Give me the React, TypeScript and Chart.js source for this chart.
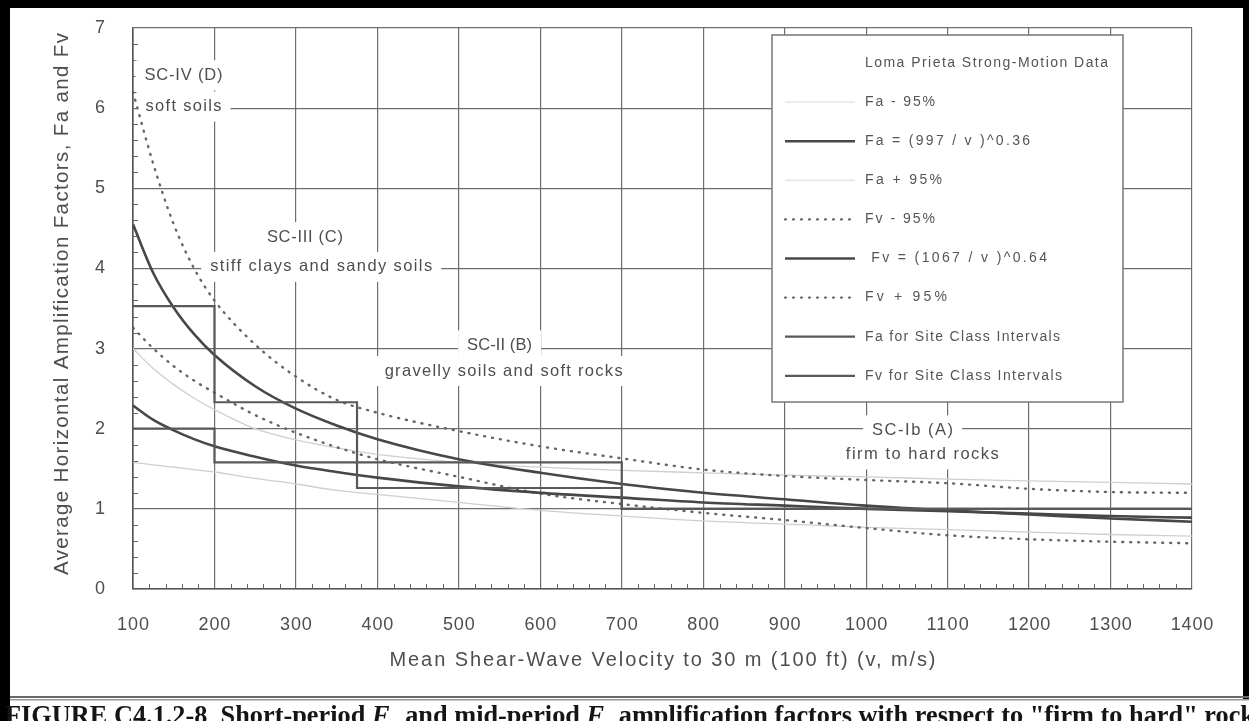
import React, { useEffect, useRef } from 'react';
import { Chart, registerables } from 'chart.js';

Chart.register(...registerables);

// ---------------- data ----------------
const velocities = [100, 125, 150, 175, 200, 250, 300, 350, 400, 500, 600, 700, 800, 900, 1000, 1100, 1200, 1300, 1400];

const faMean = [2.29, 2.11, 1.98, 1.87, 1.78, 1.65, 1.54, 1.46, 1.39, 1.28, 1.2, 1.14, 1.08, 1.04, 1.0, 0.97, 0.94, 0.91, 0.89];
const faPlus95 = [3.0, 2.75, 2.55, 2.38, 2.24, 2.0, 1.86, 1.76, 1.68, 1.58, 1.52, 1.48, 1.45, 1.42, 1.4, 1.37, 1.35, 1.33, 1.31];
const faMinus95 = [1.58, 1.55, 1.52, 1.49, 1.46, 1.38, 1.31, 1.23, 1.18, 1.08, 0.98, 0.91, 0.85, 0.81, 0.77, 0.74, 0.71, 0.68, 0.66];

const fvMean = [4.55, 3.94, 3.51, 3.18, 2.92, 2.53, 2.25, 2.04, 1.87, 1.62, 1.45, 1.31, 1.2, 1.12, 1.04, 0.98, 0.93, 0.88, 0.84];
const fvPlus95 = [6.2, 5.3, 4.55, 4.0, 3.6, 3.05, 2.65, 2.36, 2.2, 1.97, 1.78, 1.63, 1.49, 1.41, 1.36, 1.32, 1.25, 1.21, 1.2];
const fvMinus95 = [3.26, 3.0, 2.78, 2.6, 2.45, 2.17, 1.95, 1.77, 1.62, 1.4, 1.19, 1.06, 0.95, 0.86, 0.76, 0.67, 0.62, 0.59, 0.57];

const siteClassVelocities = [100, 200, 375, 700, 1400];
const faSiteClass = [2.0, 1.58, 1.26, 1.0, 1.0];
const fvSiteClass = [3.53, 2.33, 1.58, 1.0, 1.0];

const xTickLabels = ['100', '200', '300', '400', '500', '600', '700', '800', '900', '1000', '1100', '1200', '1300', '1400'];
const yTickLabels = ['0', '1', '2', '3', '4', '5', '6', '7'];

const zoneLabels = ['SC-IV (D)', 'soft soils', 'SC-III (C)', 'stiff clays and sandy soils', 'SC-II (B)', 'gravelly soils and soft rocks', 'SC-Ib (A)', 'firm to hard rocks'];
const zoneLabelV = [162, 162, 311, 331, 550, 555, 1057, 1069];
const zoneLabelF = [6.41, 6.02, 4.39, 4.02, 3.04, 2.72, 1.98, 1.68];

const legendLabels = [
  'Loma Prieta Strong-Motion Data',
  'Fa - 95%',
  'Fa = (997 / v )^0.36',
  'Fa + 95%',
  'Fv - 95%',
  ' Fv = (1067 / v )^0.64',
  'Fv + 95%',
  'Fa for Site Class Intervals',
  'Fv for Site Class Intervals',
];

const xTitle = 'Mean Shear-Wave Velocity to 30 m (100 ft) (v, m/s)';
const yTitle = 'Average Horizontal Amplification Factors, Fa and Fv';

// ---------------- styling / layout ----------------
const SANS = '"Liberation Sans", Arial, Helvetica, sans-serif';
const SERIF = '"Liberation Serif", "Times New Roman", serif';
const INK = '#4e4e4e';
const MEAN_COLOR = '#474747';
const STEP_COLOR = '#585858';
const DOT_COLOR = '#666666';
const FAINT_COLOR = '#cfcfcf';

const zoneLabelWidths = [78, 76, 76, 222, 65, 238, 81, 153];
const legendTextWidths = [243, 70, 165, 77, 70, 182, 82, 195, 197];

type LegendStyle = { color: string; width: number; dash: number[] } | null;
const legendStyles: LegendStyle[] = [
  null,
  { color: '#e6e6e6', width: 1.5, dash: [] },
  { color: MEAN_COLOR, width: 2.4, dash: [] },
  { color: '#e6e6e6', width: 1.5, dash: [] },
  { color: DOT_COLOR, width: 2.2, dash: [1, 7] },
  { color: MEAN_COLOR, width: 2.4, dash: [] },
  { color: DOT_COLOR, width: 2.2, dash: [1, 7] },
  { color: STEP_COLOR, width: 2.2, dash: [] },
  { color: STEP_COLOR, width: 2.2, dash: [] },
];

function fitText(
  ctx: CanvasRenderingContext2D,
  text: string,
  x: number,
  y: number,
  width: number,
  font: string,
  color: string,
  align: 'left' | 'center' = 'center'
) {
  ctx.save();
  ctx.font = font;
  (ctx as any).letterSpacing = '0px';
  const natural = ctx.measureText(text).width;
  const n = text.length;
  const sp = n > 1 ? (width - natural) / (n - 1) : 0;
  (ctx as any).letterSpacing = `${sp}px`;
  ctx.fillStyle = color;
  ctx.textAlign = 'left';
  ctx.textBaseline = 'middle';
  const left = align === 'center' ? x - width / 2 : x;
  ctx.fillText(text, left, y);
  ctx.restore();
}

function pts(xs: number[], ys: number[]) {
  return xs.map((x, i) => ({ x, y: ys[i] }));
}

export default function App() {
  const ref = useRef<HTMLCanvasElement>(null);

  useEffect(() => {
    const canvas = ref.current;
    if (!canvas) return;

    const decor = {
      id: 'decor',
      beforeDraw(chart: any) {
        const ctx: CanvasRenderingContext2D = chart.ctx;
        ctx.save();
        ctx.fillStyle = '#ffffff';
        ctx.fillRect(0, 0, chart.width, chart.height);
        ctx.restore();
      },
      beforeDatasetsDraw(chart: any) {
        const ctx: CanvasRenderingContext2D = chart.ctx;
        const xs = chart.scales.x;
        const ys = chart.scales.y;
        const area = chart.chartArea;
        ctx.save();
        // minor ticks
        ctx.strokeStyle = '#666';
        ctx.lineWidth = 1;
        for (let k = 0; k <= 35; k++) {
          if (k % 5 === 0) continue;
          const py = Math.round(ys.getPixelForValue(k * 0.2)) + 0.5;
          ctx.beginPath();
          ctx.moveTo(area.left, py);
          ctx.lineTo(area.left + 5, py);
          ctx.stroke();
        }
        for (let k = 0; k <= 65; k++) {
          if (k % 5 === 0) continue;
          const px = Math.round(xs.getPixelForValue(100 + k * 20)) + 0.5;
          ctx.beginPath();
          ctx.moveTo(px, area.bottom);
          ctx.lineTo(px, area.bottom - 5);
          ctx.stroke();
        }
        // zone labels with white backgrounds
        zoneLabels.forEach((t, i) => {
          const cx = xs.getPixelForValue(zoneLabelV[i]);
          const cy = ys.getPixelForValue(zoneLabelF[i]);
          const w = zoneLabelWidths[i];
          ctx.fillStyle = '#ffffff';
          ctx.fillRect(cx - w / 2 - 9, cy - 15, w + 18, 30);
          fitText(ctx, t, cx, cy, w, `16.5px ${SANS}`, INK, 'center');
        });
        ctx.restore();
      },
      afterDatasetsDraw(chart: any) {
        const ctx: CanvasRenderingContext2D = chart.ctx;
        const xs = chart.scales.x;
        const ys = chart.scales.y;
        const area = chart.chartArea;
        ctx.save();

        // legend box
        const lx0 = 772, ly0 = 35, lx1 = 1123, ly1 = 402;
        ctx.fillStyle = '#ffffff';
        ctx.fillRect(lx0, ly0, lx1 - lx0, ly1 - ly0);
        ctx.strokeStyle = '#777';
        ctx.lineWidth = 1.5;
        ctx.strokeRect(lx0, ly0, lx1 - lx0, ly1 - ly0);
        legendLabels.forEach((t, i) => {
          const ry = 63 + i * 39.1;
          const st = legendStyles[i];
          if (st) {
            ctx.save();
            ctx.strokeStyle = st.color;
            ctx.lineWidth = st.width;
            ctx.setLineDash(st.dash);
            ctx.lineCap = st.dash.length ? 'round' : 'butt';
            ctx.beginPath();
            ctx.moveTo(785, ry);
            ctx.lineTo(855, ry);
            ctx.stroke();
            ctx.restore();
          }
          fitText(ctx, t, 865, ry, legendTextWidths[i], `14px ${SANS}`, '#555', 'left');
        });

        // tick labels
        xTickLabels.forEach((t) => {
          const px = xs.getPixelForValue(Number(t));
          fitText(ctx, t, px, 625, t.length * 10.6, `18px ${SANS}`, INK, 'center');
        });
        yTickLabels.forEach((t) => {
          const py = ys.getPixelForValue(Number(t));
          fitText(ctx, t, 100, py, 10, `18px ${SANS}`, INK, 'center');
        });

        // axis titles
        fitText(ctx, xTitle, (area.left + area.right) / 2, 660, 546, `20px ${SANS}`, INK, 'center');
        ctx.save();
        ctx.translate(62, 304);
        ctx.rotate(-Math.PI / 2);
        fitText(ctx, yTitle, 0, 0, 542, `20.5px ${SANS}`, INK, 'center');
        ctx.restore();

        // frame
        ctx.fillStyle = '#000';
        ctx.fillRect(0, 0, 1249, 8);
        ctx.fillRect(0, 0, 10, 721);
        ctx.fillRect(1243, 0, 6, 699);
        ctx.fillStyle = '#6a6a6a';
        ctx.fillRect(10, 696, 1239, 2);
        ctx.fillStyle = '#9a9a9a';
        ctx.fillRect(10, 699, 1239, 1.5);

        // caption
        const size = 28;
        const parts = [
          { t: 'FIGURE C4.1.2-8  Short-period ', f: 'bold', sub: false },
          { t: 'F', f: 'italic bold', sub: false },
          { t: 'a', f: 'italic bold', sub: true },
          { t: ' and mid-period ', f: 'bold', sub: false },
          { t: 'F', f: 'italic bold', sub: false },
          { t: 'v', f: 'italic bold', sub: true },
          { t: ' amplification factors with respect to "firm to hard" rock', f: 'bold', sub: false },
        ];
        const fontOf = (p: any) => `${p.f} ${p.sub ? size * 0.7 : size}px ${SERIF}`;
        let total = 0;
        const widths: number[] = [];
        parts.forEach((p) => {
          ctx.font = fontOf(p);
          const w = ctx.measureText(p.t).width;
          widths.push(w);
          total += w;
        });
        const sx = 1250 / total;
        ctx.save();
        ctx.translate(5, 0);
        ctx.scale(sx, 1);
        ctx.fillStyle = '#151515';
        ctx.textAlign = 'left';
        ctx.textBaseline = 'alphabetic';
        let cxp = 0;
        parts.forEach((p, i) => {
          ctx.font = fontOf(p);
          ctx.fillText(p.t, cxp, p.sub ? 730 : 724);
          cxp += widths[i];
        });
        ctx.restore();

        ctx.restore();
      },
    };

    const chart = new Chart(canvas, {
      type: 'line',
      data: {
        datasets: [
          {
            label: 'Fv for Site Class Intervals',
            data: pts(siteClassVelocities, fvSiteClass),
            stepped: 'before',
            borderColor: STEP_COLOR,
            borderWidth: 2.2,
            pointRadius: 0,
          },
          {
            label: 'Fa for Site Class Intervals',
            data: pts(siteClassVelocities, faSiteClass),
            stepped: 'before',
            borderColor: STEP_COLOR,
            borderWidth: 2.2,
            pointRadius: 0,
          },
          {
            label: 'Fv = (1067 / v )^0.64',
            data: pts(velocities, fvMean),
            cubicInterpolationMode: 'monotone',
            borderColor: MEAN_COLOR,
            borderWidth: 2.6,
            pointRadius: 0,
          },
          {
            label: 'Fa = (997 / v )^0.36',
            data: pts(velocities, faMean),
            cubicInterpolationMode: 'monotone',
            borderColor: MEAN_COLOR,
            borderWidth: 2.6,
            pointRadius: 0,
          },
          {
            label: 'Fv + 95%',
            data: pts(velocities, fvPlus95),
            cubicInterpolationMode: 'monotone',
            borderColor: DOT_COLOR,
            borderWidth: 2.4,
            borderDash: [1, 7],
            borderCapStyle: 'round',
            pointRadius: 0,
          },
          {
            label: 'Fv - 95%',
            data: pts(velocities, fvMinus95),
            cubicInterpolationMode: 'monotone',
            borderColor: DOT_COLOR,
            borderWidth: 2.4,
            borderDash: [1, 7],
            borderCapStyle: 'round',
            pointRadius: 0,
          },
          {
            label: 'Fa + 95%',
            data: pts(velocities, faPlus95),
            cubicInterpolationMode: 'monotone',
            borderColor: FAINT_COLOR,
            borderWidth: 1.3,
            pointRadius: 0,
          },
          {
            label: 'Fa - 95%',
            data: pts(velocities, faMinus95),
            cubicInterpolationMode: 'monotone',
            borderColor: FAINT_COLOR,
            borderWidth: 1.3,
            pointRadius: 0,
          },
        ] as any,
      },
      options: {
        animation: false,
        responsive: false,
        maintainAspectRatio: false,
        devicePixelRatio: 1,
        layout: { padding: { left: 133, top: 28, right: 57, bottom: 132 } },
        plugins: { legend: { display: false }, tooltip: { enabled: false } },
        scales: {
          x: {
            type: 'linear',
            min: 100,
            max: 1400,
            ticks: { display: false, stepSize: 100 },
            grid: { color: '#6e6e6e', lineWidth: 1.2, drawTicks: false },
            border: { color: '#555', width: 1.6 },
            afterFit: (s: any) => {
              s.height = 0;
            },
          },
          y: {
            type: 'linear',
            min: 0,
            max: 7,
            ticks: { display: false, stepSize: 1 },
            grid: { color: '#6e6e6e', lineWidth: 1.2, drawTicks: false },
            border: { color: '#555', width: 1.6 },
            afterFit: (s: any) => {
              s.width = 0;
            },
          },
        },
      } as any,
      plugins: [decor],
    });

    return () => chart.destroy();
  }, []);

  return (
    <div style={{ position: 'fixed', left: 0, top: 0, width: 1249, height: 721, background: '#fff' }}>
      <canvas ref={ref} width={1249} height={721} style={{ display: 'block', width: 1249, height: 721 }} />
    </div>
  );
}
